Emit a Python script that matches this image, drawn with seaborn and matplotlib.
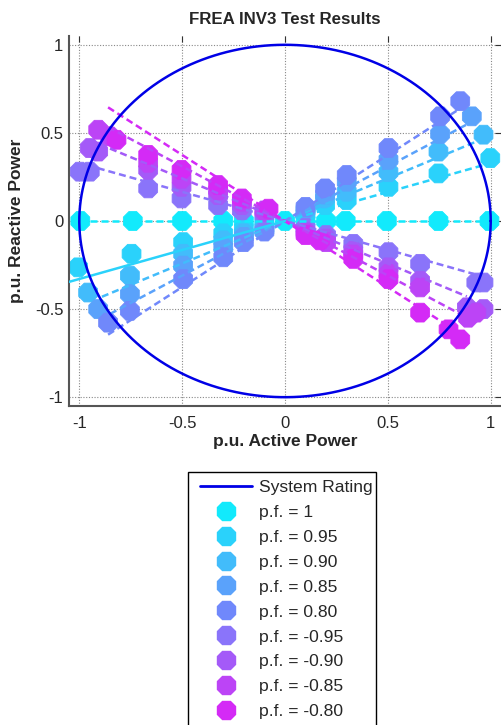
import numpy as np
import pandas as pd
import matplotlib
matplotlib.use("Agg")
import matplotlib.pyplot as plt
from matplotlib.lines import Line2D
from matplotlib.patches import Rectangle
import seaborn as sns

# ---------------- data ----------------
labels = ["p.f. = 1", "p.f. = 0.95", "p.f. = 0.90", "p.f. = 0.85", "p.f. = 0.80",
          "p.f. = -0.95", "p.f. = -0.90", "p.f. = -0.85", "p.f. = -0.80"]
colors = ["#12EAFC", "#2AD2FB", "#42BCFB", "#5AA2FB", "#7088FB",
          "#8A74FA", "#A45AF8", "#BC44F6", "#D42AF6"]

pf100_P = [-0.995, -0.74, -0.50, -0.30, -0.20, -0.10, 0.0, 0.10, 0.20, 0.295, 0.495, 0.746, 0.994]
pf100_Q = [0.0, 0.0, 0.0, 0.0, 0.0, 0.0, 0.0, 0.0, 0.0, 0.0, 0.0, 0.0, 0.0]

pf095_P = [-1.006, -0.746, -0.495, -0.30, -0.20, -0.10, 0.10, 0.195, 0.30, 0.503, 0.746, 0.998]
pf095_Q = [-0.263, -0.186, -0.120, -0.07, -0.045, -0.02, 0.04, 0.09, 0.118, 0.194, 0.270, 0.357]

pf090_P = [-0.957, -0.754, -0.495, -0.30, -0.20, -0.10, 0.10, 0.195, 0.30, 0.503, 0.746, 0.965]
pf090_Q = [-0.406, -0.310, -0.186, -0.11, -0.07, -0.04, 0.06, 0.128, 0.166, 0.277, 0.394, 0.490]

pf085_P = [-0.908, -0.754, -0.495, -0.30, -0.20, -0.10, 0.10, 0.195, 0.30, 0.503, 0.754, 0.908]
pf085_Q = [-0.500, -0.415, -0.253, -0.15, -0.09, -0.05, 0.07, 0.15, 0.223, 0.347, 0.494, 0.594]

pf080_P = [-0.860, -0.754, -0.495, -0.30, -0.20, -0.10, 0.10, 0.195, 0.30, 0.503, 0.754, 0.852]
pf080_Q = [-0.577, -0.510, -0.330, -0.206, -0.12, -0.06, 0.08, 0.185, 0.261, 0.414, 0.594, 0.680]

m095_P = [-0.998, -0.949, -0.665, -0.503, -0.325, -0.21, -0.10, 0.10, 0.20, 0.332, 0.503, 0.657, 0.930, 0.965]
m095_Q = [0.280, 0.280, 0.185, 0.128, 0.09, 0.06, 0.03, -0.04, -0.08, -0.13, -0.177, -0.243, -0.349, -0.349]

m090_P = [-0.949, -0.908, -0.665, -0.503, -0.325, -0.21, -0.10, 0.10, 0.20, 0.332, 0.503, 0.657, 0.884, 0.965]
m090_Q = [0.414, 0.394, 0.290, 0.194, 0.147, 0.09, 0.05, -0.06, -0.10, -0.17, -0.263, -0.339, -0.490, -0.500]

m085_P = [-0.908, -0.850, -0.665, -0.503, -0.325, -0.21, -0.10, 0.10, 0.20, 0.332, 0.503, 0.657, 0.890, 0.930]
m085_Q = [0.518, 0.480, 0.330, 0.240, 0.175, 0.11, 0.06, -0.07, -0.12, -0.19, -0.300, -0.377, -0.549, -0.520]

m080_P = [-0.819, -0.665, -0.503, -0.325, -0.21, -0.08, 0.10, 0.17, 0.332, 0.503, 0.657, 0.795, 0.852]
m080_Q = [0.461, 0.375, 0.290, 0.204, 0.128, 0.07, -0.08, -0.11, -0.215, -0.33, -0.520, -0.615, -0.672]

series_P = [pf100_P, pf095_P, pf090_P, pf085_P, pf080_P, m095_P, m090_P, m085_P, m080_P]
series_Q = [pf100_Q, pf095_Q, pf090_Q, pf085_Q, pf080_Q, m095_Q, m090_Q, m085_Q, m080_Q]

# reference (ideal p.f.) lines: left end and right end
line_x_left = [-1.00, 0.00, -0.89, -0.85, -0.86, -0.91, -0.90, -0.86, -0.86]
line_y_left = [0.00, 0.00, -0.430, -0.527, -0.645, 0.300, 0.435, 0.533, 0.645]
line_x_right = [1.00, 0.98, 0.933, 0.884, 0.835, 0.916, 0.884, 0.852, 0.83]
line_y_right = [0.00, 0.322, 0.452, 0.548, 0.626, -0.300, -0.428, -0.528, -0.623]
# solid segment (p.f. = 0.95, negative active power side)
solid_x = [-1.10, 0.0]
solid_y = [-0.362, 0.0]

system_rating = 1.0
tick_vals = [-1, -0.5, 0, 0.5, 1]
tick_labels = ["-1", "-0.5", "0", "0.5", "1"]

# ---------------- figure ----------------
sns.set_style("white")
plt.rcParams["font.family"] = ["Liberation Sans", "DejaVu Sans"]

W, H = 502, 725
fig = plt.figure(figsize=(W / 100, H / 100), dpi=100)
ax = fig.add_axes([69 / W, 1 - 406 / H, 432 / W, 370 / H])

frames = []
for lab, P, Q in zip(labels, series_P, series_Q):
    frames.append(pd.DataFrame({"P": P, "Q": Q, "series": lab}))
df = pd.concat(frames, ignore_index=True)
palette = dict(zip(labels, colors))

sns.scatterplot(data=df, x="P", y="Q", hue="series", hue_order=labels,
                palette=palette, marker="8", s=215, linewidth=0.6,
                edgecolor=None, legend=False, ax=ax, zorder=2)
for coll in ax.collections:
    coll.set_edgecolor(coll.get_facecolor())

dash = (0, (2.8, 1.6))
for i, c in enumerate(colors):
    ax.plot([line_x_left[i], line_x_right[i]], [line_y_left[i], line_y_right[i]],
            color=c, lw=1.8, linestyle=dash, zorder=3)
ax.plot(solid_x, solid_y, color=colors[1], lw=1.8, linestyle="-", zorder=3)

theta = np.linspace(0, 2 * np.pi, 400)
ax.plot(system_rating * np.cos(theta), system_rating * np.sin(theta),
        color="#0000E6", lw=1.8, zorder=4)

ax.set_xlim(-1.05, 1.05)
ax.set_ylim(-1.05, 1.05)
ax.set_xticks(tick_vals)
ax.set_xticklabels(tick_labels)
ax.set_yticks(tick_vals)
ax.set_yticklabels(tick_labels)
ax.grid(True, linestyle=(0, (1, 1.5)), color="#888888", lw=0.8)
ax.tick_params(direction="in", length=4, width=0.8, color="#333333",
               labelsize=12, top=True, right=True)
ax.tick_params(axis="x", pad=7)
ax.tick_params(axis="y", pad=4)
for side in ["left", "bottom"]:
    ax.spines[side].set_color("#555555")
    ax.spines[side].set_linewidth(1.5)
for side in ["top", "right"]:
    ax.spines[side].set_visible(False)

ax.set_title("FREA INV3 Test Results", fontsize=12.2, fontweight="bold", pad=9)
ax.set_xlabel("p.u. Active Power", fontsize=12.5, fontweight="bold", labelpad=2)
ax.set_ylabel("p.u. Reactive Power", fontsize=12.5, fontweight="bold", labelpad=8)

# legend (frame drawn separately so it can run past the bottom edge)
handles = [Line2D([0], [0], color="#0000E6", lw=2.0)]
for c in colors:
    handles.append(Line2D([0], [0], color=c, marker="8", markersize=13.5,
                          linestyle="None", markeredgecolor=c))
leg = fig.legend(handles, ["System Rating"] + labels, loc="upper left",
                 bbox_to_anchor=(193 / W, 1 - 472.5 / H), fontsize=12.6,
                 frameon=False, handlelength=3.0, handletextpad=0.35,
                 labelspacing=0.555, borderpad=0.4, borderaxespad=0)
fig.patches.append(Rectangle((188 / W, -0.05), (376 - 188) / W,
                             (1 - 471.5 / H) + 0.05, transform=fig.transFigure,
                             fill=False, edgecolor="black", lw=1.0))

fig.savefig("out.png", dpi=100)
